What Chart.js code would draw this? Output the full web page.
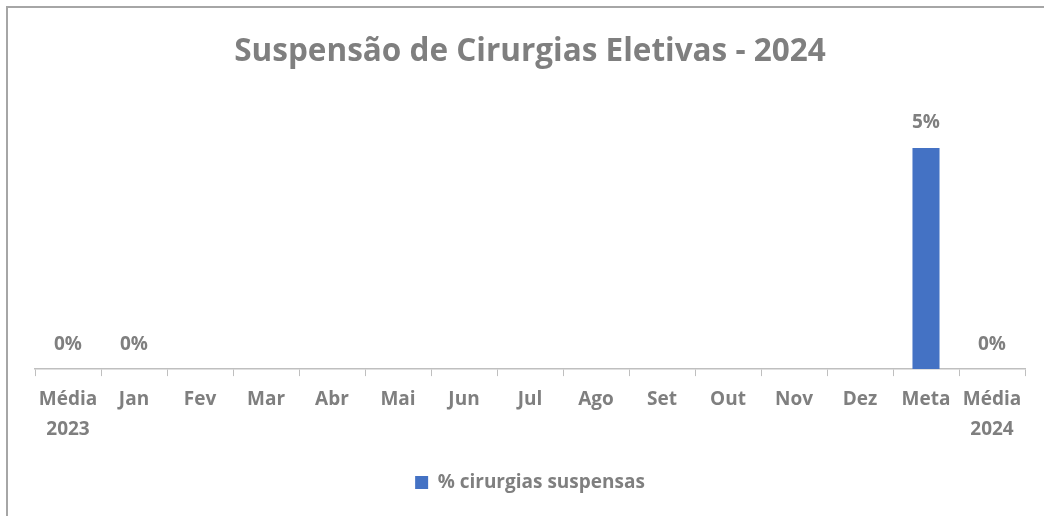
<!DOCTYPE html>
<html>
<head>
<meta charset="utf-8">
<script src="https://cdn.jsdelivr.net/npm/chart.js@4"></script>
<style>
  html, body { margin: 0; padding: 0; background: #fff; }
  #wrap { position: absolute; left: 0; top: 0; width: 1044px; height: 516px; }
  #frame { position: absolute; left: 6px; top: 6px; width: 1040px; height: 512px;
           border-left: 2px solid #a6a6a6; border-top: 2px solid #a6a6a6; pointer-events: none; }
</style>
</head>
<body>
<div id="wrap">
  <canvas id="chart" width="1044" height="516"></canvas>
  <div id="frame"></div>
</div>
<script>
const categorias = [['Média', '2023'], 'Jan', 'Fev', 'Mar', 'Abr', 'Mai', 'Jun', 'Jul', 'Ago', 'Set', 'Out', 'Nov', 'Dez', 'Meta', ['Média', '2024']];
const suspensas = [0, 0, null, null, null, null, null, null, null, null, null, null, null, 5, 0];
const rotulos = ['0%', '0%', '', '', '', '', '', '', '', '', '', '', '', '5%', '0%'];

const cinza = '#7f7f7f';
const fonte = "'Open Sans', sans-serif";

// rótulos de dados acima das barras
const rotulosPlugin = {
    id: 'rotulos',
    afterDatasetsDraw(chart) {
        const ctx = chart.ctx;
        const meta = chart.getDatasetMeta(0);
        ctx.save();
        ctx.font = 'bold 19px ' + fonte;
        ctx.fillStyle = cinza;
        ctx.textAlign = 'center';
        ctx.textBaseline = 'middle';
        meta.data.forEach(function(bar, i) {
            if (suspensas[i] === null) return;
            ctx.fillText(rotulos[i], bar.x, bar.y - 25);
        });
        ctx.restore();
    }
};

const ctx = document.getElementById('chart').getContext('2d');
const chart = new Chart(ctx, {
    type: 'bar',
    data: {
        labels: categorias,
        datasets: [{
            label: '% cirurgias suspensas',
            data: suspensas,
            backgroundColor: '#4472c4',
            borderWidth: 0,
            categoryPercentage: 1,
            barPercentage: 0.41
        }]
    },
    options: {
        responsive: false,
        animation: false,
        layout: {
            padding: { left: 35, right: 19, top: 16, bottom: 14 }
        },
        scales: {
            y: {
                display: false,
                min: 0,
                max: 6
            },
            x: {
                grid: {
                    drawOnChartArea: false,
                    tickLength: 7,
                    color: '#bfbfbf',
                    offset: true
                },
                border: { color: '#bfbfbf', width: 1.5 },
                ticks: {
                    color: cinza,
                    font: { family: fonte, size: 19, weight: 'bold', lineHeight: 1.55 },
                    maxRotation: 0,
                    autoSkip: false,
                    padding: 9
                }
            }
        },
        plugins: {
            title: {
                display: true,
                text: 'Suspensão de Cirurgias Eletivas - 2024',
                color: cinza,
                font: { family: fonte, size: 31.5, weight: 'bold' },
                padding: { top: 17, bottom: 33 }
            },
            legend: {
                position: 'bottom',
                labels: {
                    color: cinza,
                    font: { family: fonte, size: 19, weight: 'bold' },
                    boxWidth: 13,
                    boxHeight: 13,
                    padding: 20
                }
            },
            tooltip: { enabled: false }
        }
    },
    plugins: [rotulosPlugin]
});
</script>
</body>
</html>
